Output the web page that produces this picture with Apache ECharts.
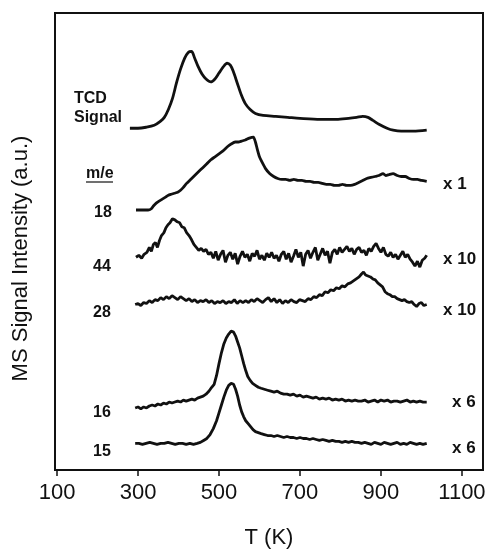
<!DOCTYPE html>
<html style="height: 100%">
<head>
    <meta charset="utf-8">
</head>
<body style="height: 100%; margin: 0; background: #fff">
    <div id="container" style="width: 489px; height: 554px"></div>
    <script src="https://cdn.jsdelivr.net/npm/echarts@6/dist/echarts.min.js"></script>
    <script type="text/javascript">
        // temperatures (K) and signal (a.u., offset per trace)
        var tcdT = [280, 300, 320, 340, 355, 365, 375, 385, 395, 405, 415, 424, 432, 440, 448, 458, 468, 480, 490, 500, 510, 520, 528, 535, 545, 555, 565, 577, 590, 609, 640, 670, 700, 750, 790, 820, 840, 855, 868, 880, 895, 915, 930, 950, 980, 1013];
        var tcdV = [347, 347, 348, 350, 354, 358, 366, 377, 393, 407, 418, 424, 425, 418, 410, 402, 397, 394, 397, 403, 409, 413, 411, 405, 393, 381, 372, 366, 362, 360, 359, 358, 357, 356, 356, 357, 358, 359, 358, 355, 351, 347, 345, 344, 344, 345];

        var m18T = [295, 310, 325, 332, 338, 345, 352, 360, 368, 375, 382, 390, 398, 405, 412, 420, 430, 440, 450, 460, 470, 480, 490, 500, 510, 520, 530, 540, 548, 556, 565, 575, 585, 590, 595, 600, 607, 615, 625, 635, 645, 655, 665, 675, 685, 695, 705, 715, 725, 735, 745, 755, 765, 775, 785, 795, 805, 815, 825, 835, 845, 855, 865, 875, 885, 895, 905, 912, 920, 930, 940, 950, 960, 970, 980, 990, 1000, 1013];
        var m18V = [264, 264, 264, 265, 268, 271, 273, 275, 277, 279, 280, 281, 282, 284, 287, 291, 295, 299, 303, 307, 311, 315, 318, 321, 324, 328, 331, 333, 333, 334, 335, 337, 338, 333, 325, 318, 312, 306, 301, 298, 296, 295, 295, 294, 295, 294, 294, 293, 293, 292, 292, 291, 290, 290, 289, 289, 290, 289, 289, 290, 292, 294, 296, 297, 298, 299, 301, 299, 300, 301, 299, 298, 298, 296, 295, 295, 294, 293];

        var m44T = [295, 302, 309, 315, 322, 328, 333, 338, 343, 348, 353, 358, 364, 369, 374, 379, 385, 391, 397, 403, 408, 414, 420, 426, 432, 438, 444, 450, 456, 462, 468, 474, 480, 486, 492, 498, 504, 510, 516, 522, 528, 534, 540, 546, 552, 558, 564, 570, 576, 582, 588, 594, 600, 606, 612, 618, 624, 630, 636, 642, 648, 654, 660, 666, 672, 678, 684, 690, 696, 702, 708, 714, 720, 726, 732, 738, 744, 750, 756, 762, 768, 774, 780, 786, 792, 798, 804, 810, 816, 822, 828, 834, 840, 846, 852, 858, 864, 870, 876, 882, 888, 894, 900, 906, 912, 918, 924, 930, 936, 942, 948, 954, 960, 966, 972, 978, 984, 990, 996, 1002, 1008, 1013];
        var m44V = [216, 218, 215, 219, 221, 226, 222, 229, 231, 226, 233, 238, 241, 246, 249, 251, 255, 254, 252, 251, 247, 246, 241, 238, 234, 229, 226, 223, 225, 222, 224, 219, 221, 215, 222, 213, 219, 223, 211, 218, 221, 214, 220, 209, 217, 222, 216, 219, 212, 220, 217, 223, 214, 218, 213, 220, 216, 221, 215, 218, 212, 219, 222, 214, 220, 211, 217, 224, 216, 221, 207, 219, 223, 215, 221, 226, 213, 219, 225, 218, 222, 210, 221, 224, 219, 226, 221, 224, 227, 222, 225, 219, 224, 226, 221, 223, 218, 225, 222, 227, 230, 225, 221, 226, 219, 217, 221, 216, 219, 214, 218, 222, 216, 219, 214, 211, 207, 212, 206, 213, 215, 218];

        var m28T = [293, 300, 307, 314, 321, 328, 335, 342, 349, 356, 363, 370, 377, 384, 391, 398, 405, 412, 419, 426, 433, 440, 447, 454, 461, 468, 475, 482, 489, 496, 503, 510, 517, 524, 531, 538, 545, 552, 559, 566, 573, 580, 587, 594, 601, 608, 615, 622, 629, 636, 643, 650, 657, 664, 671, 678, 685, 692, 699, 706, 713, 720, 727, 734, 741, 748, 755, 762, 769, 776, 783, 790, 797, 804, 811, 818, 825, 832, 839, 846, 852, 857, 862, 868, 874, 880, 886, 892, 898, 904, 910, 916, 922, 928, 934, 940, 946, 952, 958, 964, 970, 976, 982, 988, 994, 1000, 1006, 1013];
        var m28V = [168, 169, 167, 170, 169, 172, 170, 173, 172, 175, 173, 176, 174, 177, 175, 173, 176, 174, 172, 174, 171, 173, 170, 172, 171, 173, 170, 172, 169, 171, 170, 172, 169, 171, 170, 173, 169, 172, 170, 172, 170, 173, 171, 174, 172, 170, 173, 175, 171, 174, 170, 173, 169, 172, 170, 173, 171, 170, 173, 172, 171, 174, 173, 176, 175, 178, 177, 181, 180, 183, 182, 185, 184, 187, 186, 189, 190, 192, 194, 196, 199, 201, 198, 197, 196, 194, 193, 190, 188, 186, 181, 179, 178, 176, 176, 174, 173, 172, 173, 171, 170, 171, 168, 166, 169, 170, 167, 168];

        var m16T = [293, 300, 307, 314, 321, 328, 335, 342, 349, 356, 363, 370, 377, 384, 391, 398, 405, 412, 419, 426, 433, 440, 447, 454, 461, 468, 475, 482, 488, 494, 500, 506, 512, 518, 524, 530, 536, 541, 546, 551, 556, 561, 566, 571, 577, 583, 590, 597, 604, 612, 620, 628, 636, 644, 652, 660, 668, 676, 684, 692, 700, 708, 716, 724, 732, 740, 748, 756, 764, 772, 780, 788, 796, 804, 812, 820, 828, 836, 844, 852, 860, 868, 876, 884, 892, 900, 908, 916, 924, 932, 940, 948, 956, 964, 972, 980, 988, 996, 1004, 1013];
        var m16V = [63, 64, 62, 64, 63, 65, 66, 65, 67, 66, 68, 67, 69, 68, 69, 70, 69, 71, 70, 71, 72, 71, 73, 74, 75, 77, 80, 84, 87, 96, 108, 119, 128, 134, 138, 141, 140, 136, 130, 124, 116, 108, 101, 95, 91, 88, 86, 84, 83, 82, 81, 80, 79, 80, 78, 77, 77, 76, 77, 75, 76, 74, 75, 74, 73, 74, 72, 73, 72, 73, 71, 72, 71, 72, 70, 71, 70, 71, 70, 70, 71, 69, 70, 71, 69, 71, 70, 71, 69, 70, 70, 69, 70, 71, 69, 70, 69, 70, 69, 69];

        var m15T = [293, 302, 311, 320, 329, 338, 347, 356, 365, 374, 383, 392, 401, 410, 419, 428, 437, 446, 454, 462, 470, 478, 486, 494, 500, 506, 512, 518, 524, 530, 536, 541, 546, 551, 556, 561, 566, 572, 578, 584, 590, 597, 604, 612, 620, 628, 636, 644, 652, 660, 668, 676, 684, 692, 700, 708, 716, 724, 732, 740, 748, 756, 764, 772, 780, 788, 796, 804, 812, 820, 828, 836, 844, 852, 860, 868, 876, 884, 892, 900, 908, 916, 924, 932, 940, 948, 956, 964, 972, 980, 988, 996, 1004, 1013];
        var m15V = [27, 27, 26, 27, 28, 27, 26, 27, 27, 28, 27, 26, 27, 27, 26, 27, 26, 27, 28, 30, 32, 36, 42, 50, 58, 66, 74, 81, 86, 88, 87, 82, 75, 66, 59, 54, 50, 47, 44, 41, 39, 38, 37, 36, 35, 35, 34, 35, 34, 33, 34, 33, 33, 32, 33, 32, 32, 31, 32, 31, 30, 31, 30, 29, 30, 29, 29, 28, 29, 28, 29, 28, 28, 27, 28, 27, 26, 28, 27, 26, 28, 27, 26, 27, 28, 26, 27, 26, 28, 27, 26, 27, 26, 27];

        var tickValues = [100, 300, 500, 700, 900, 1100];

        function pairs(xs, ys) {
            var out = [];
            for (var i = 0; i < xs.length; i++) out.push([xs[i], ys[i]]);
            return out;
        }

        function trace(name, xs, ys, smooth) {
            return {
                name: name,
                type: 'line',
                data: pairs(xs, ys),
                showSymbol: false,
                smooth: smooth,
                lineStyle: { color: '#111', width: 2.8 },
                silent: true
            };
        }

        function label(text, x, y, size) {
            return {
                type: 'text',
                x: x,
                y: y,
                style: {
                    text: text,
                    font: 'bold ' + (size || 16) + 'px "Liberation Sans", Arial, sans-serif',
                    fill: '#111',
                    verticalAlign: 'middle'
                }
            };
        }

        var myChart = echarts.init(document.getElementById('container'));
        var option = {
            animation: false,
            backgroundColor: '#fff',
            textStyle: { fontFamily: '"Liberation Sans", Arial, sans-serif' },
            grid: {
                left: 55, right: 6, top: 13, bottom: 77,
                show: true, borderColor: '#111', borderWidth: 2
            },
            xAxis: {
                type: 'value',
                min: 95,
                max: 1152,
                name: 'T (K)',
                nameLocation: 'middle',
                nameGap: 57,
                nameTextStyle: { fontSize: 22, color: '#111' },
                axisLine: { show: true, lineStyle: { color: '#111', width: 2 } },
                axisTick: { show: true, customValues: tickValues, length: 6, lineStyle: { color: '#111', width: 1.5 } },
                axisLabel: {
                    customValues: tickValues, fontSize: 22, color: '#111', margin: 12,
                    formatter: function (v) { return String(v); }
                },
                splitLine: { show: false }
            },
            yAxis: {
                type: 'value',
                min: 0,
                max: 464,
                name: 'MS Signal Intensity (a.u.)',
                nameLocation: 'middle',
                nameGap: 23,
                nameTextStyle: { fontSize: 22, color: '#111', padding: [0, 34, 0, 0] },
                axisLine: { show: false },
                axisTick: { show: false },
                axisLabel: { show: false },
                splitLine: { show: false }
            },
            series: [
                trace('TCD', tcdT, tcdV, 0.3),
                trace('18', m18T, m18V, 0.2),
                trace('44', m44T, m44V, false),
                trace('28', m28T, m28V, false),
                trace('16', m16T, m16V, false),
                trace('15', m15T, m15V, false)
            ],
            graphic: [
                label('TCD', 74, 99),
                label('Signal', 74, 118),
                label('m/e', 86, 174),
                { type: 'line', shape: { x1: 86, y1: 182, x2: 113, y2: 182 }, style: { stroke: '#111', lineWidth: 1.2 } },
                label('18', 94, 213),
                label('44', 93, 267),
                label('28', 93, 313),
                label('16', 93, 413),
                label('15', 93, 452),
                label('x 1', 443, 184, 17),
                label('x 10', 443, 259, 17),
                label('x 10', 443, 310, 17),
                label('x 6', 452, 402, 17),
                label('x 6', 452, 448, 17)
            ]
        };
        myChart.setOption(option);
    </script>
</body>
</html>
